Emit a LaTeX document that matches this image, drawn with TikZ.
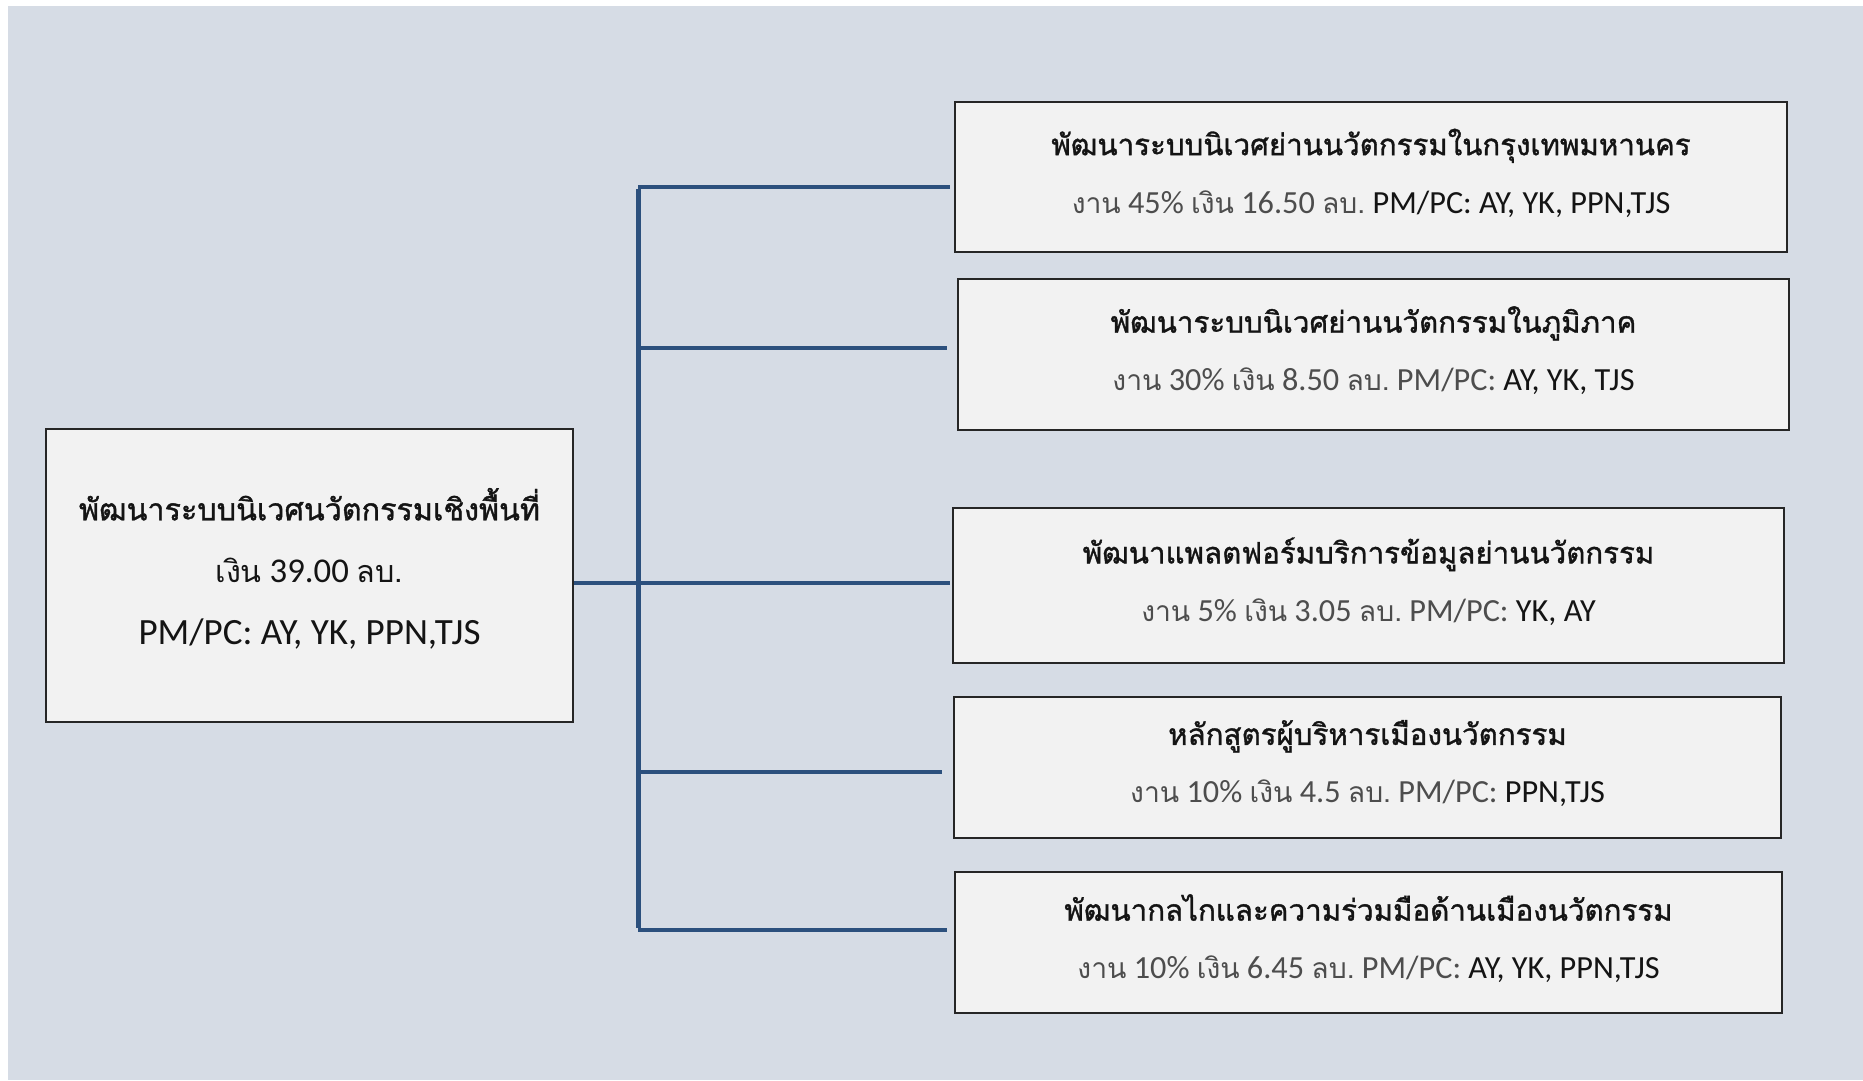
\documentclass[tikz,border=0pt]{standalone}
\usepackage{fontspec}
\newfontfamily\thai[Script=Thai]{Loma}
\newfontfamily\thaib[Script=Thai,FakeBold=1.2]{Loma}
\newfontfamily\lat[Scale=1.14]{Carlito}
\newcommand\subsize{\fontsize{28.3}{58}\selectfont}
\definecolor{bg}{HTML}{D6DCE5}
\definecolor{boxfill}{HTML}{F2F2F2}
\definecolor{boxline}{HTML}{262626}
\definecolor{conn}{HTML}{2C507D}
\definecolor{lite}{HTML}{4D4D4D}
\definecolor{dark}{HTML}{141414}
\begin{document}
\begin{tikzpicture}[x=1pt,y=-1pt,
  tbox/.style={draw=boxline,line width=1.6pt,fill=boxfill,inner sep=0pt},
  btxt/.style={inner sep=0pt,align=center,text=dark,font=\fontsize{29.5}{58}\selectfont},
  connline/.style={draw=conn,line width=4pt},
  trunkline/.style={draw=conn,line width=5pt}]
\useasboundingbox (0,0) rectangle (1863,1080);
\fill[white] (0,0) rectangle (1863,1080);
\fill[bg] (8,6) rectangle (1863,1080);
% left box
\node[tbox,minimum width=527pt,minimum height=293pt] (lb) at (309.5,575.5) {};
\node[btxt,font=\fontsize{30.5}{62}\selectfont] (lbt) at ([yshift=7pt]lb.center)
  {{\thaib พัฒนาระบบนิเวศนวัตกรรมเชิงพื้นที่}\\{\thai เงิน}{\lat\ 39.00\ }{\thai ลบ.}\\{\fontsize{32.5}{62}\selectfont\lat PM/PC: AY, YK, PPN,TJS}};
% right boxes
\node[tbox,minimum width=832pt,minimum height=150pt] (b1) at (1371,177) {};
\node[btxt] (b1t) at ([yshift=4pt]b1.center)
  {{\thaib พัฒนาระบบนิเวศย่านนวัตกรรมในกรุงเทพมหานคร}\\
   {\subsize{\color{lite}\thai งาน{\lat\ 45\%\ }เงิน{\lat\ 16.50\ }ลบ.}{\lat\ PM/PC: AY, YK, PPN,TJS}}};
\node[tbox,minimum width=831pt,minimum height=151pt] (b2) at (1373.5,354.5) {};
\node[btxt] (b2t) at ([yshift=4pt]b2.center)
  {{\thaib พัฒนาระบบนิเวศย่านนวัตกรรมในภูมิภาค}\\
   {\subsize{\color{lite}\thai งาน{\lat\ 30\%\ }เงิน{\lat\ 8.50\ }ลบ.{\lat\ PM/PC:\ }}{\lat AY, YK, TJS}}};
\node[tbox,minimum width=831pt,minimum height=155pt] (b3) at (1368.5,585.5) {};
\node[btxt] (b3t) at ([yshift=4pt]b3.center)
  {{\thaib พัฒนาแพลตฟอร์มบริการข้อมูลย่านนวัตกรรม}\\
   {\subsize{\color{lite}\thai งาน{\lat\ 5\%\ }เงิน{\lat\ 3.05\ }ลบ.{\lat\ PM/PC:\ }}{\lat YK, AY}}};
\node[tbox,minimum width=827pt,minimum height=141pt] (b4) at (1367.5,767.5) {};
\node[btxt] (b4t) at ([yshift=4pt]b4.center)
  {{\thaib หลักสูตรผู้บริหารเมืองนวัตกรรม}\\
   {\subsize{\color{lite}\thai งาน{\lat\ 10\%\ }เงิน{\lat\ 4.5\ }ลบ.{\lat\ PM/PC:\ }}{\lat PPN,TJS}}};
\node[tbox,minimum width=827pt,minimum height=141pt] (b5) at (1368.5,942.5) {};
\node[btxt] (b5t) at ([yshift=4pt]b5.center)
  {{\thaib พัฒนากลไกและความร่วมมือด้านเมืองนวัตกรรม}\\
   {\subsize{\color{lite}\thai งาน{\lat\ 10\%\ }เงิน{\lat\ 6.45\ }ลบ.{\lat\ PM/PC:\ }}{\lat AY, YK, PPN,TJS}}};
% trunk coordinates
\coordinate (t1) at (638,187);
\coordinate (t2) at (638,348);
\coordinate (t3) at (638,583);
\coordinate (t4) at (638,772);
\coordinate (t5) at (638,930);
\coordinate (e1) at (950,187);
\coordinate (e2) at (947,348);
\coordinate (e3) at (950,583);
\coordinate (e4) at (942,772);
\coordinate (e5) at (947,930);
\draw[trunkline] ([yshift=-2pt]t1) -- ([yshift=2pt]t5);
\draw[connline] (lb.east |- t3) -- (t3);
\draw[connline] (t1) -- (e1);
\draw[connline] (t2) -- (e2);
\draw[connline] (t3) -- (e3);
\draw[connline] (t4) -- (e4);
\draw[connline] (t5) -- (e5);
\end{tikzpicture}
\end{document}
